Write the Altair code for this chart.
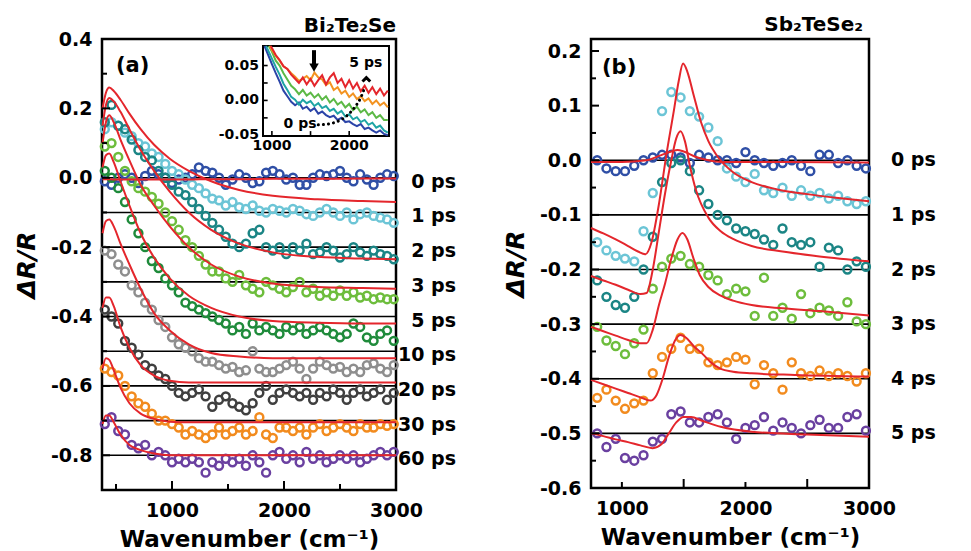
import altair as alt
import pandas as pd

FONT = "DejaVu Sans"
RED = "#e4262c"

# ================= panel (a): Bi2Te2Se =================
A_TITLE = "Bi₂Te₂Se"
A_SERIES = ["0 ps", "1 ps", "2 ps", "3 ps", "5 ps", "10 ps", "20 ps", "30 ps", "60 ps"]
A_COLORS = ["#2f4fa6", "#6cc5d6", "#1b8585", "#6dbd3c", "#1f8b3b", "#8e8e8e", "#3f3f3f", "#f28b1e", "#6a40a0"]
A_BASE = [0.0, -0.1, -0.2, -0.3, -0.4, -0.5, -0.6, -0.7, -0.8]
A_X = list(range(400, 3000, 60))
A_Y = {
    "0 ps": [-0.01, -0.02, 0.0, 0.01, 0.0, -0.015, 0.005, 0.02, 0.01, 0.0, -0.015, -0.005, 0.0, 0.01, 0.03, 0.02, 0.015, 0.0, -0.02, -0.005, 0.01, 0.0, -0.015, -0.01, 0.015, 0.02, 0.01, -0.005, 0.0, -0.02, -0.02, 0.0, 0.01, 0.005, 0.01, 0.02, 0.0, -0.01, 0.01, -0.005, -0.02, 0.0, 0.01, 0.005],
    "1 ps": [0.14, 0.16, 0.15, 0.13, 0.12, 0.1, 0.09, 0.07, 0.06, 0.04, 0.02, 0.01, -0.005, -0.02, -0.03, -0.045, -0.06, -0.065, -0.08, -0.07, -0.085, -0.09, -0.08, -0.095, -0.1, -0.09, -0.095, -0.1, -0.09, -0.095, -0.105, -0.11, -0.1, -0.09, -0.1, -0.11, -0.1, -0.12, -0.105, -0.1, -0.11, -0.115, -0.12, -0.13],
    "2 ps": [0.16, 0.21, 0.15, 0.14, 0.11, 0.08, 0.06, 0.05, 0.02, 0.0, -0.02, -0.04, -0.05, -0.07, -0.09, -0.11, -0.13, -0.15, -0.17, -0.19, -0.2, -0.19, -0.16, -0.15, -0.2, -0.21, -0.2, -0.22, -0.2, -0.21, -0.19, -0.22, -0.215, -0.2, -0.21, -0.23, -0.22, -0.2, -0.215, -0.225, -0.21, -0.22, -0.225, -0.235],
    "3 ps": [0.09, 0.1, 0.06, 0.02, -0.01, -0.03, -0.04, -0.055, -0.075, -0.1, -0.125, -0.15, -0.18, -0.2, -0.225, -0.25, -0.27, -0.27, -0.29, -0.3, -0.28, -0.31, -0.32, -0.33, -0.3, -0.31, -0.32, -0.33, -0.315, -0.3, -0.33, -0.32, -0.34, -0.33, -0.34, -0.325, -0.34, -0.33, -0.345, -0.34, -0.35, -0.345, -0.35, -0.35],
    "5 ps": [0.02, 0.0, -0.03, -0.07, -0.12, -0.16, -0.2, -0.24, -0.26, -0.29, -0.31, -0.33, -0.36, -0.37, -0.38, -0.39, -0.4, -0.41, -0.42, -0.44, -0.43, -0.45, -0.42, -0.44, -0.43, -0.44, -0.45, -0.43, -0.44, -0.43, -0.45, -0.44, -0.43, -0.44, -0.45, -0.46, -0.45, -0.42, -0.43, -0.46, -0.47, -0.45, -0.44, -0.47],
    "10 ps": [-0.21, -0.22, -0.25, -0.27, -0.31, -0.33, -0.36, -0.38, -0.41, -0.43, -0.46, -0.48, -0.49, -0.5, -0.52, -0.53, -0.53, -0.54, -0.55, -0.545, -0.56, -0.555, -0.5, -0.55, -0.56, -0.56, -0.55, -0.54, -0.53, -0.55, -0.58, -0.55, -0.53, -0.54, -0.55, -0.545, -0.56, -0.55, -0.56, -0.54, -0.535, -0.55, -0.56, -0.54],
    "20 ps": [-0.38, -0.4, -0.42, -0.47, -0.49, -0.51, -0.54, -0.55, -0.57, -0.58, -0.6, -0.62, -0.63, -0.62, -0.61, -0.63, -0.66, -0.64, -0.63, -0.65, -0.66, -0.67, -0.65, -0.62, -0.6, -0.64, -0.62, -0.61, -0.62, -0.63, -0.62, -0.64, -0.62, -0.63, -0.61, -0.62, -0.64, -0.62, -0.61, -0.63, -0.62, -0.61, -0.64, -0.62],
    "30 ps": [-0.55, -0.56, -0.57, -0.6, -0.63, -0.65, -0.66, -0.68, -0.7, -0.7, -0.71, -0.72, -0.74, -0.73, -0.74, -0.75, -0.74, -0.72, -0.74, -0.73, -0.72, -0.74, -0.73, -0.69, -0.74, -0.75, -0.72, -0.72, -0.73, -0.72, -0.74, -0.72, -0.71, -0.73, -0.72, -0.71, -0.72, -0.73, -0.71, -0.72, -0.72, -0.71, -0.715, -0.71],
    "60 ps": [-0.71, -0.69, -0.73, -0.74, -0.77, -0.78, -0.77, -0.8, -0.79, -0.8, -0.82, -0.81, -0.82, -0.81, -0.82, -0.85, -0.82, -0.83, -0.81, -0.82, -0.81, -0.83, -0.8, -0.82, -0.85, -0.8, -0.79, -0.81, -0.8, -0.82, -0.79, -0.81, -0.8, -0.82, -0.81, -0.8, -0.81, -0.8, -0.82, -0.81, -0.8, -0.79, -0.8, -0.79],
}
A_FIT_X = [380, 410, 440, 480, 540, 620, 720, 840, 980, 1150, 1350, 1600, 1900, 2300, 2700, 3000]
A_FIT_Y = {
    "0 ps": [-0.004, -0.004, -0.004, -0.005, -0.005, -0.005, -0.005, -0.005, -0.005, -0.005, -0.004, -0.004, -0.003, -0.003, -0.002, -0.002],
    "1 ps": [0.2, 0.245, 0.26, 0.25, 0.225, 0.185, 0.14, 0.095, 0.055, 0.02, -0.01, -0.035, -0.052, -0.062, -0.067, -0.07],
    "2 ps": [0.15, 0.21, 0.23, 0.22, 0.19, 0.14, 0.08, 0.02, -0.04, -0.1, -0.15, -0.19, -0.215, -0.228, -0.233, -0.235],
    "3 ps": [0.1, 0.16, 0.18, 0.16, 0.11, 0.05, -0.02, -0.08, -0.14, -0.2, -0.25, -0.285, -0.305, -0.315, -0.318, -0.32],
    "5 ps": [0.03, 0.065, 0.07, 0.045, -0.01, -0.08, -0.16, -0.23, -0.29, -0.34, -0.375, -0.4, -0.413, -0.418, -0.42, -0.42],
    "10 ps": [-0.16, -0.125, -0.12, -0.14, -0.19, -0.25, -0.32, -0.39, -0.44, -0.48, -0.505, -0.515, -0.52, -0.52, -0.52, -0.52],
    "20 ps": [-0.375, -0.345, -0.345, -0.37, -0.43, -0.49, -0.54, -0.57, -0.585, -0.59, -0.59, -0.59, -0.59, -0.59, -0.59, -0.59],
    "30 ps": [-0.55, -0.52, -0.525, -0.555, -0.605, -0.65, -0.68, -0.695, -0.703, -0.705, -0.705, -0.705, -0.705, -0.705, -0.705, -0.705],
    "60 ps": [-0.71, -0.685, -0.685, -0.705, -0.74, -0.77, -0.785, -0.795, -0.8, -0.8, -0.8, -0.8, -0.8, -0.8, -0.8, -0.8],
}
A_XDOM = [375, 3000]
A_YDOM = [-0.9, 0.4]
A_YLABELS = [-0.8, -0.6, -0.4, -0.2, 0.0, 0.2, 0.4]
A_YTICK_MAJOR = [-0.8, -0.6, -0.4, -0.2, 0.0, 0.2, 0.4]
A_YTICK_MINOR = [-0.7, -0.5, -0.3, -0.1, 0.1, 0.3]
A_XLABELS = [1000, 2000, 3000]
A_XTICK_MAJOR = [1000, 2000]
A_XTICK_MINOR = [500, 1500, 2500]

# ----- inset of panel (a) -----
IN_XDOM = [885, 2515]
IN_YDOM = [-0.051, 0.078]
IN_SERIES = ["blue", "teal", "green", "orange", "red"]
IN_COLORS = ["#2b44a8", "#1fa5a5", "#5cb946", "#f39321", "#e4262c"]
IN_START_X = [905, 925, 960, 975, 985]
IN_START_Y = [0.078, 0.078, 0.078, 0.078, 0.078]
IN_X = list(range(1000, 2550, 50))
IN_Y = {
    "blue": [0.052, 0.039, 0.027, 0.014, 0.006, -0.002, -0.007, -0.003, -0.012, -0.009, -0.015, -0.011, -0.019, -0.016, -0.021, -0.024, -0.022, -0.028, -0.025, -0.031, -0.03, -0.034, -0.037, -0.034, -0.041, -0.039, -0.043, -0.046, -0.043, -0.048, -0.05],
    "teal": [0.06, 0.048, 0.037, 0.024, 0.015, 0.005, 0.001, -0.006, 0.001, -0.004, -0.001, -0.008, -0.004, -0.011, -0.008, -0.015, -0.012, -0.019, -0.015, -0.023, -0.02, -0.027, -0.024, -0.031, -0.028, -0.035, -0.032, -0.039, -0.036, -0.043, -0.046],
    "green": [0.07, 0.057, 0.05, 0.039, 0.03, 0.021, 0.016, 0.009, 0.015, 0.007, 0.011, 0.004, 0.009, 0.001, 0.006, -0.003, 0.002, -0.006, -0.002, -0.01, -0.005, -0.014, -0.009, -0.017, -0.013, -0.021, -0.017, -0.025, -0.021, -0.028, -0.028],
    "orange": [0.072, 0.064, 0.057, 0.049, 0.045, 0.039, 0.034, 0.028, 0.031, 0.035, 0.029, 0.04, 0.033, 0.03, 0.022, 0.026, 0.015, 0.019, 0.01, 0.014, 0.005, 0.01, 0.002, 0.006, -0.001, 0.003, -0.005, 0.0, -0.007, -0.003, -0.01],
    "red": [0.075, 0.065, 0.058, 0.049, 0.045, 0.037, 0.031, 0.025, 0.033, 0.023, 0.031, 0.021, 0.029, 0.036, 0.023, 0.033, 0.039, 0.025, 0.031, 0.019, 0.029, 0.017, 0.025, 0.013, 0.021, 0.011, 0.019, 0.009, 0.017, 0.007, 0.014],
}
IN_YTICKS = [0.05, 0.025, 0.0, -0.025]
IN_XTICKS = [1000, 1500, 2000]
IN_YLAB_V = [0.05, 0.0, -0.05]
IN_YLAB_T = ["0.05", "0.00", "-0.05"]
IN_XLAB_V = [1000, 2000]
IN_XLAB_T = ["1000", "2000"]
DOT_X = [1600, 1720, 1850, 1970, 2070, 2150, 2200]
DOT_Y = [-0.035, -0.034, -0.03, -0.022, -0.01, 0.004, 0.018]
CHEVRON = (2222, 0.031)
DOWN_ARROW_X = 1545
DOWN_ARROW_Y = [0.072, 0.052]
DOWN_HEAD_Y = 0.047
IN_NOTES = [("0 ps", 1365, -0.034), ("5 ps", 2215, 0.054)]

# ================= panel (b): Sb2TeSe2 =================
B_TITLE = "Sb₂TeSe₂"
B_SERIES = ["0 ps", "1 ps", "2 ps", "3 ps", "4 ps", "5 ps"]
B_COLORS = ["#2f4fa6", "#6cc5d6", "#1b8585", "#6dbd3c", "#f28b1e", "#6a40a0"]
B_BASE = [0.0, -0.1, -0.2, -0.3, -0.4, -0.5]
B_X = list(range(800, 3000, 75))
B_Y = {
    "0 ps": [0.0, -0.015, -0.02, -0.02, -0.01, 0.0, 0.005, 0.01, 0.01, 0.005, -0.005, 0.01, 0.005, 0.0, 0.0, -0.005, 0.015, 0.0, -0.005, -0.01, -0.005, 0.0, -0.01, -0.02, 0.01, 0.01, -0.005, 0.0, -0.01, -0.015],
    "1 ps": [-0.15, -0.165, -0.175, -0.18, -0.185, -0.13, -0.06, 0.09, 0.125, 0.115, 0.09, 0.08, 0.06, 0.035, -0.015, -0.03, -0.04, -0.025, -0.055, -0.06, -0.05, -0.065, -0.055, -0.065, -0.06, -0.07, -0.065, -0.075, -0.08, -0.075],
    "2 ps": [-0.22, -0.25, -0.265, -0.27, -0.25, -0.2, -0.14, -0.04, -0.005, 0.0, -0.02, -0.055, -0.08, -0.1, -0.11, -0.125, -0.13, -0.135, -0.145, -0.155, -0.125, -0.15, -0.155, -0.15, -0.195, -0.16, -0.165, -0.2, -0.185, -0.195],
    "3 ps": [-0.305, -0.33, -0.34, -0.355, -0.335, -0.31, -0.235, -0.195, -0.18, -0.175, -0.19, -0.195, -0.21, -0.22, -0.245, -0.235, -0.24, -0.285, -0.215, -0.285, -0.27, -0.29, -0.245, -0.28, -0.27, -0.275, -0.285, -0.26, -0.295, -0.3],
    "4 ps": [-0.435, -0.42, -0.44, -0.455, -0.445, -0.44, -0.39, -0.36, -0.345, -0.325, -0.345, -0.345, -0.37, -0.375, -0.37, -0.36, -0.365, -0.41, -0.375, -0.39, -0.42, -0.37, -0.39, -0.395, -0.385, -0.395, -0.39, -0.395, -0.405, -0.39],
    "5 ps": [-0.5, -0.525, -0.51, -0.545, -0.55, -0.54, -0.515, -0.51, -0.465, -0.46, -0.48, -0.48, -0.47, -0.465, -0.48, -0.51, -0.49, -0.485, -0.47, -0.495, -0.48, -0.49, -0.5, -0.485, -0.475, -0.49, -0.49, -0.47, -0.465, -0.495],
}
B_FIT_X = {
    "0 ps": [750, 1000, 1200, 1300, 1400, 1450, 1500, 1600, 1700, 1800, 2000, 3000],
    "1 ps": [750, 850, 950, 1050, 1130, 1190, 1240, 1300, 1360, 1420, 1460, 1495, 1530, 1580, 1640, 1700, 1780, 1900, 2050, 2250, 2500, 2750, 3000],
    "2 ps": [750, 850, 950, 1050, 1150, 1200, 1250, 1300, 1350, 1400, 1440, 1475, 1510, 1550, 1600, 1700, 1800, 1900, 2050, 2300, 2600, 3000],
    "3 ps": [750, 850, 950, 1050, 1150, 1200, 1250, 1300, 1350, 1400, 1450, 1490, 1530, 1580, 1630, 1700, 1800, 1900, 2050, 2300, 2600, 3000],
    "4 ps": [750, 850, 950, 1050, 1150, 1230, 1280, 1330, 1380, 1430, 1475, 1520, 1580, 1650, 1720, 1800, 1900, 2050, 2400, 3000],
    "5 ps": [750, 850, 950, 1050, 1150, 1250, 1320, 1380, 1440, 1500, 1560, 1650, 1800, 2050, 2500, 3000],
}
B_FIT_Y = {
    "0 ps": [-0.003, -0.003, 0.0, 0.008, 0.016, 0.019, 0.016, 0.006, 0.0, -0.003, -0.003, -0.004],
    "1 ps": [-0.124, -0.134, -0.145, -0.157, -0.167, -0.172, -0.15, -0.08, 0.01, 0.09, 0.145, 0.177, 0.162, 0.12, 0.07, 0.035, 0.005, -0.022, -0.04, -0.053, -0.062, -0.069, -0.075],
    "2 ps": [-0.212, -0.22, -0.228, -0.237, -0.245, -0.243, -0.2, -0.13, -0.06, 0.0, 0.04, 0.053, 0.035, -0.01, -0.055, -0.105, -0.13, -0.144, -0.157, -0.167, -0.176, -0.185],
    "3 ps": [-0.305, -0.313, -0.321, -0.329, -0.335, -0.335, -0.31, -0.265, -0.225, -0.18, -0.145, -0.133, -0.145, -0.18, -0.21, -0.232, -0.248, -0.257, -0.265, -0.271, -0.276, -0.284],
    "4 ps": [-0.402, -0.41, -0.418, -0.426, -0.434, -0.44, -0.43, -0.4, -0.36, -0.33, -0.32, -0.325, -0.34, -0.354, -0.37, -0.382, -0.387, -0.39, -0.393, -0.396],
    "5 ps": [-0.5, -0.505, -0.511, -0.516, -0.522, -0.527, -0.52, -0.5, -0.48, -0.47, -0.47, -0.477, -0.488, -0.497, -0.502, -0.506],
}
B_XDOM = [750, 3000]
B_YDOM = [-0.6, 0.222]
B_YLABELS = [-0.6, -0.5, -0.4, -0.3, -0.2, -0.1, 0.0, 0.1, 0.2]
B_YTICK_MAJOR = [-0.5, -0.4, -0.3, -0.2, -0.1, 0.0, 0.1, 0.2]
B_YTICK_MINOR = [-0.55, -0.45, -0.35, -0.25, -0.15, -0.05, 0.05, 0.15]
B_XLABELS = [1000, 2000, 3000]
B_XTICK_MAJOR = [1500, 2500]
B_XTICK_MINOR = [1000, 2000]

WA, HA = 294, 451
WB, HB = 278, 449
LABEL_EXPR = "replace(format(datum.value, '.1f'), '\u2212', '-')"


def points_df(series, colors, xs, ys):
    rows = []
    for s, c in zip(series, colors):
        for x, y in zip(xs, ys[s]):
            rows.append({"x": x, "y": y, "s": s, "c": c})
    return pd.DataFrame(rows)


def fits_df(series, fx, fy):
    rows = []
    for s in series:
        for x, y in zip(fx[s], fy[s]):
            rows.append({"x": x, "y": y, "s": s})
    return pd.DataFrame(rows)


def main_layer(series, colors, base, pts, fits, xdom, ydom, xlabels, ylabels,
               ytmaj, ytmin, xtmaj, xtmin, W, H, lab_x, lab_align, lab_dy, tag, tag_x, tag_y):
    X = alt.X("x:Q", scale=alt.Scale(domain=xdom, nice=False, zero=False),
              axis=alt.Axis(values=xlabels, format="d", title="Wavenumber (cm⁻¹)", ticks=False, tickSize=0,
                            domain=False, grid=False, labelPadding=11, titlePadding=8,
                            labelFontSize=19, titleFontSize=23, labelFlush=False, labelOverlap=False))
    Y = alt.Y("y:Q", scale=alt.Scale(domain=ydom, nice=False, zero=False),
              axis=alt.Axis(values=ylabels, labelExpr=LABEL_EXPR, title="ΔR/R", ticks=False, tickSize=0,
                            domain=False, grid=False, labelPadding=10, titlePadding=11,
                            labelFontSize=19, titleFontSize=25, titleFontStyle="italic",
                            labelFlush=False, labelOverlap=False))
    base_df = pd.DataFrame({"y": base, "s": series})
    lines = alt.Chart(base_df).mark_rule(color="black", strokeWidth=1.6).encode(y=Y)
    pts_l = alt.Chart(pts).mark_point(shape="circle", filled=False, size=62, strokeWidth=2.5,
                                      opacity=1).encode(x=X, y=Y, color=alt.Color("c:N", scale=None))
    fit_l = alt.Chart(fits).mark_line(color=RED, strokeWidth=2, interpolate="monotone").encode(
        x=X, y=Y, detail="s:N")
    yt1 = alt.Chart(pd.DataFrame({"y": ytmaj})).mark_rule(color="black", strokeWidth=2).encode(
        y=Y, x=alt.value(0), x2=alt.value(8))
    yt2 = alt.Chart(pd.DataFrame({"y": ytmin})).mark_rule(color="black", strokeWidth=2).encode(
        y=Y, x=alt.value(0), x2=alt.value(5))
    xt1 = alt.Chart(pd.DataFrame({"x": xtmaj})).mark_rule(color="black", strokeWidth=2).encode(
        x=X, y=alt.value(H), y2=alt.value(H - 9))
    xt2 = alt.Chart(pd.DataFrame({"x": xtmin})).mark_rule(color="black", strokeWidth=2).encode(
        x=X, y=alt.value(H), y2=alt.value(H - 6))
    labs = alt.Chart(base_df).mark_text(font=FONT, fontSize=19, fontWeight="bold", align=lab_align,
                                        baseline="middle", dy=lab_dy, color="black").encode(
        y=Y, x=alt.value(lab_x), text="s:N")
    tag_l = alt.Chart(pd.DataFrame({"t": [tag]})).mark_text(
        font=FONT, fontSize=21, fontWeight="bold", align="left", baseline="middle", color="black").encode(
        x=alt.value(tag_x), y=alt.value(tag_y), text="t:N")
    return alt.layer(lines, pts_l, fit_l, yt1, yt2, xt1, xt2, labs, tag_l)


def inset_layer():
    XI = alt.X("x:Q", scale=alt.Scale(domain=IN_XDOM, range=[161, 287], nice=False, zero=False), axis=None)
    YI = alt.Y("y:Q", scale=alt.Scale(domain=IN_YDOM, range=[97, 7], nice=False, zero=False), axis=None)
    frame = alt.Chart(pd.DataFrame({"x": [IN_XDOM[0]], "x2": [IN_XDOM[1]],
                                    "y": [IN_YDOM[0]], "y2": [IN_YDOM[1]]})).mark_rect(
        fill="white", stroke="black", strokeWidth=2).encode(x=XI, x2="x2:Q", y=YI, y2="y2:Q")
    rows = []
    for i, (s, c) in enumerate(zip(IN_SERIES, IN_COLORS)):
        rows.append({"x": IN_START_X[i], "y": IN_START_Y[i], "s": s, "c": c})
        for x, y in zip(IN_X, IN_Y[s]):
            rows.append({"x": x, "y": y, "s": s, "c": c})
    lines = alt.Chart(pd.DataFrame(rows)).mark_line(strokeWidth=2).encode(
        x=XI, y=YI, detail="s:N", color=alt.Color("c:N", scale=None))
    ytk = alt.Chart(pd.DataFrame({"y": IN_YTICKS, "x": [IN_XDOM[0]] * len(IN_YTICKS),
                                  "x2": [IN_XDOM[0] + 60] * len(IN_YTICKS)})).mark_rule(
        color="black", strokeWidth=1.6).encode(y=YI, x=XI, x2="x2:Q")
    xtk = alt.Chart(pd.DataFrame({"x": IN_XTICKS, "y": [IN_YDOM[0]] * len(IN_XTICKS),
                                  "y2": [IN_YDOM[0] + 0.007] * len(IN_XTICKS)})).mark_rule(
        color="black", strokeWidth=1.6).encode(x=XI, y=YI, y2="y2:Q")
    ylab = alt.Chart(pd.DataFrame({"y": IN_YLAB_V, "t": IN_YLAB_T, "x": [IN_XDOM[0]] * 3})).mark_text(
        font=FONT, fontSize=14, fontWeight="bold", align="right", baseline="middle", dx=-4,
        color="black").encode(x=XI, y=YI, text="t:N")
    xlab = alt.Chart(pd.DataFrame({"x": IN_XLAB_V, "t": IN_XLAB_T, "y": [IN_YDOM[0]] * 2})).mark_text(
        font=FONT, fontSize=14, fontWeight="bold", align="center", baseline="top", dy=3,
        color="black").encode(x=XI, y=YI, text="t:N")
    dots = alt.Chart(pd.DataFrame({"x": DOT_X, "y": DOT_Y})).mark_line(
        color="black", strokeWidth=3, strokeDash=[0.1, 5], strokeCap="round",
        interpolate="monotone").encode(x=XI, y=YI)
    chev = alt.Chart(pd.DataFrame({"x": [CHEVRON[0]], "y": [CHEVRON[1]]})).mark_point(
        shape="M-1,0.7L0,-0.3L1,0.7", filled=False, stroke="black", strokeWidth=3, size=60,
        opacity=1).encode(x=XI, y=YI)
    shaft = alt.Chart(pd.DataFrame({"x": [DOWN_ARROW_X], "y": [DOWN_ARROW_Y[0]],
                                    "y2": [DOWN_ARROW_Y[1]]})).mark_rule(
        color="black", strokeWidth=4).encode(x=XI, y=YI, y2="y2:Q")
    head = alt.Chart(pd.DataFrame({"x": [DOWN_ARROW_X], "y": [DOWN_HEAD_Y]})).mark_point(
        shape="triangle-down", filled=True, color="black", size=90, opacity=1).encode(x=XI, y=YI)
    notes = alt.Chart(pd.DataFrame({"t": [n[0] for n in IN_NOTES], "x": [n[1] for n in IN_NOTES],
                                    "y": [n[2] for n in IN_NOTES]})).mark_text(
        font=FONT, fontSize=14, fontWeight="bold", align="center", baseline="middle",
        color="black").encode(x=XI, y=YI, text="t:N")
    return alt.layer(frame, lines, ytk, xtk, ylab, xlab, dots, chev, shaft, head, notes)


main_a = main_layer(A_SERIES, A_COLORS, A_BASE,
                    points_df(A_SERIES, A_COLORS, A_X, A_Y),
                    fits_df(A_SERIES, {s: A_FIT_X for s in A_SERIES}, A_FIT_Y),
                    A_XDOM, A_YDOM, A_XLABELS, A_YLABELS, A_YTICK_MAJOR, A_YTICK_MINOR,
                    A_XTICK_MAJOR, A_XTICK_MINOR, WA, HA, WA + 60, "right", 4, "(a)", 14, 27)
panel_a = alt.layer(main_a, inset_layer()).resolve_scale(x="independent", y="independent").properties(
    width=WA, height=HA, title=alt.TitleParams(A_TITLE, anchor="end", frame="group", dy=7))

main_b = main_layer(B_SERIES, B_COLORS, B_BASE,
                    points_df(B_SERIES, B_COLORS, B_X, B_Y),
                    fits_df(B_SERIES, B_FIT_X, B_FIT_Y),
                    B_XDOM, B_YDOM, B_XLABELS, B_YLABELS, B_YTICK_MAJOR, B_YTICK_MINOR,
                    B_XTICK_MAJOR, B_XTICK_MINOR, WB, HB, WB + 22, "left", 0, "(b)", 11, 29)
panel_b = main_b.properties(width=WB, height=HB,
                            title=alt.TitleParams(B_TITLE, anchor="end", frame="group", dx=-6, dy=-3))

chart = alt.hconcat(panel_a, panel_b, spacing=44).properties(
    padding={"left": 5, "top": 5, "right": 5, "bottom": 0}
).configure_view(stroke="black", strokeWidth=2.5).configure_axis(
    labelFont=FONT, titleFont=FONT, labelFontWeight="bold", titleFontWeight="bold",
    labelColor="black", titleColor="black"
).configure_title(font=FONT, fontWeight="bold", fontSize=20, color="black", offset=1)

chart.save("out.html", embed_options={"renderer": "svg", "actions": False})
